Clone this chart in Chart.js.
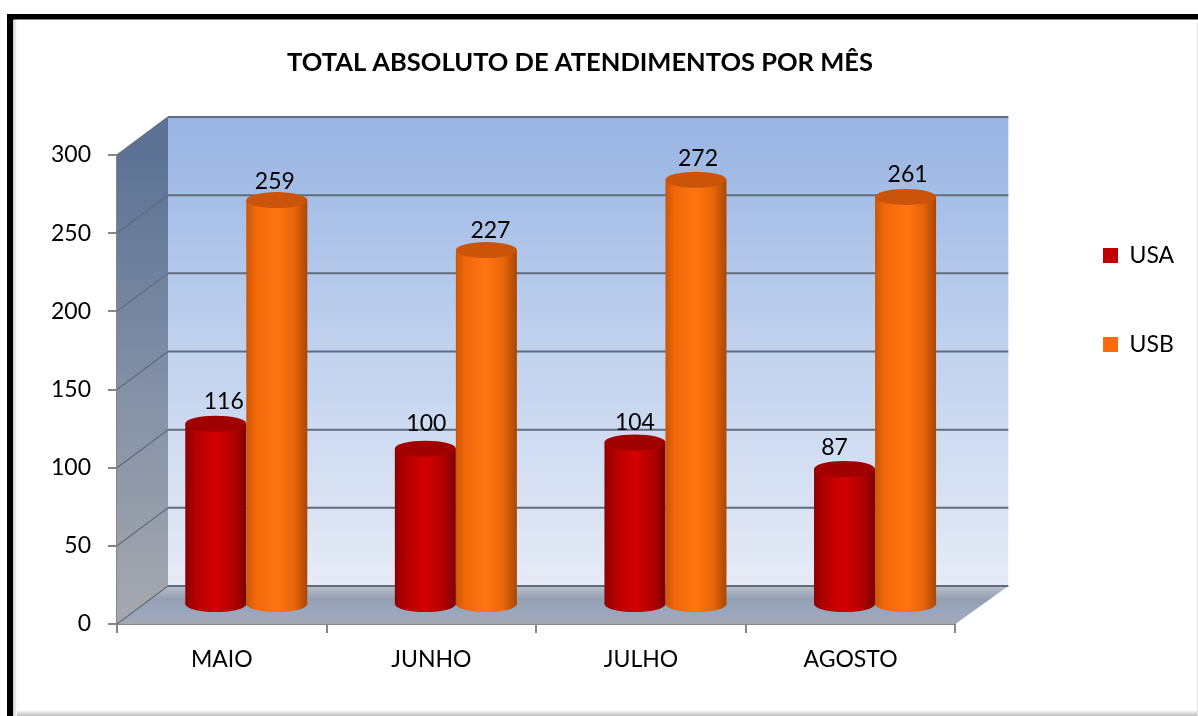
<!DOCTYPE html>
<html><head><meta charset="utf-8">
<style>html,body{margin:0;padding:0;background:#fff}#w{width:1198px;height:716px}canvas{display:block}</style>
<script src="https://cdn.jsdelivr.net/npm/chart.js@4"></script>
</head><body><div id="w"><canvas id="c" width="1198" height="716"></canvas></div>
<script>
const months = ['MAIO','JUNHO','JULHO','AGOSTO'];
const usaValues = [116,100,104,87];
const usbValues = [259,227,272,261];
const yTickStep = 50;
const yMax = 300;
const chartTitle = 'TOTAL ABSOLUTO DE ATENDIMENTOS POR MÊS';

const FONT = 'Lato';
const DEPTH = {x:51, y:-38};
const BAR = {x:24.5, y:-19};
const labelNudge = {USA:[[8,-22],[1,-25],[0,-20],[-10,-21]], USB:[[-2,-19],[4,-20],[2,-21],[2,-22]]};

function cylGrad(ctx, l, r, stops){
  const g = ctx.createLinearGradient(l,0,r,0);
  stops.forEach(s=>g.addColorStop(s[0],s[1]));
  return g;
}
const STOPS = {
  USA:[[0,'#8e0000'],[0.18,'#b50000'],[0.5,'#d40000'],[0.8,'#b00000'],[1,'#7e0000']],
  USB:[[0,'#cc5606'],[0.15,'#f0680a'],[0.5,'#ff7510'],[0.78,'#e9650a'],[1,'#a84806']]
};
const TOPC = {USA:'#a00000', USB:'#c9540a'};
const RY = 8;

function cylBase(chart,index){
  const c = chart.ctx, ds = chart.data.datasets[index], meta = chart.getDatasetMeta(index);
  c.save();
  c.translate(BAR.x,BAR.y);
  meta.data.forEach(el=>{
    const l = el.x-el.width/2, r = el.x+el.width/2;
    const g = cylGrad(c,l,r,STOPS[ds.label]);
    el.options = Object.assign({}, el.options, {backgroundColor:g});
    c.fillStyle = g;
    c.beginPath(); c.ellipse(el.x,el.base,el.width/2,RY,0,0,Math.PI*2); c.fill();
  });
}
function cylTop(chart,index){
  const c = chart.ctx, ds = chart.data.datasets[index], meta = chart.getDatasetMeta(index);
  meta.data.forEach(el=>{
    c.fillStyle = TOPC[ds.label];
    c.beginPath(); c.ellipse(el.x,el.y,el.width/2,RY,0,0,Math.PI*2); c.fill();
  });
  c.restore();
}

const scene = {
  id:'scene',
  afterLayout(chart){
    const t = chart.titleBlock, shiftT = 580 - (t.left + t.right)/2;
    t.left += shiftT; t.right += shiftT;
    const lg = chart.legend;
    const p = lg.options.labels.padding;
    lg.left = 1103 - p; lg.right = lg.left + lg.width;
    lg.top = 244 - p;
    lg.bottom = lg.top + lg.height;
  },
  beforeDraw(chart){
    const c = chart.ctx, W = chart.width, H = chart.height;
    c.save();
    c.fillStyle='#fff'; c.fillRect(0,0,W,H);
    let g = c.createLinearGradient(0,710,0,716);
    g.addColorStop(0,'#ffffff'); g.addColorStop(1,'#bdbdbd');
    c.fillStyle=g; c.fillRect(13,710,W-13,6);
    g = c.createLinearGradient(13,0,17,0);
    g.addColorStop(0,'#c8c8c8'); g.addColorStop(1,'#ffffff');
    c.fillStyle=g; c.fillRect(13,19,4,H-19);
    c.fillStyle='#e4e4e4'; c.fillRect(W-1,22,1,H-22);
    c.fillStyle='#000';
    c.fillRect(7,14,W-7,5.5);
    c.fillRect(7,14,6,H-14);
    c.restore();
  },
  beforeDatasetsDraw(chart){
    const c = chart.ctx, y = chart.scales.y, a = chart.chartArea;
    const L=a.left,R=a.right,dx=DEPTH.x,dy=DEPTH.y,T=a.top,B=a.bottom;
    c.save();
    let g = c.createLinearGradient(0,T+dy,0,B+dy);
    g.addColorStop(0,'#98b4e3'); g.addColorStop(0.5,'#c1d2ee'); g.addColorStop(1,'#e6ebf6');
    c.fillStyle=g; c.fillRect(L+dx,T+dy,R-L+2,B-T);
    g = c.createLinearGradient(0,T,0,B);
    g.addColorStop(0,'#5d7294'); g.addColorStop(0.5,'#8390a6'); g.addColorStop(1,'#a6a8ae');
    c.fillStyle=g; c.beginPath();
    c.moveTo(L,T); c.lineTo(L+dx,T+dy); c.lineTo(L+dx,B+dy); c.lineTo(L,B); c.closePath(); c.fill();
    g = c.createLinearGradient(0,B+dy,0,B);
    g.addColorStop(0,'#b9bfc9'); g.addColorStop(0.35,'#959fb2'); g.addColorStop(0.7,'#9aa7bf'); g.addColorStop(1,'#a6a8af');
    c.fillStyle=g; c.beginPath();
    c.moveTo(L,B); c.lineTo(L+dx,B+dy); c.lineTo(R+dx+2,B+dy); c.lineTo(R,B); c.closePath(); c.fill();
    y.ticks.forEach(t=>{
      const p = y.getPixelForValue(t.value);
      c.strokeStyle='#5f6c7e'; c.lineWidth=1.2;
      c.beginPath(); c.moveTo(L,p); c.lineTo(L+dx,p+dy); c.stroke();
      c.lineWidth=2;
      c.beginPath(); c.moveTo(L+dx,p+dy); c.lineTo(R+dx+2,p+dy); c.stroke();
    });
    c.restore();
  },
  // USB overlaps USA in the reference: postpone dataset 1 until dataset 0 is done
  beforeDatasetDraw(chart,args){
    if(args.index===1) return false;
    cylBase(chart,args.index);
  },
  afterDatasetDraw(chart,args){
    cylTop(chart,args.index);
    if(args.index===0){
      cylBase(chart,1);
      chart.getDatasetMeta(1).controller.draw();
      cylTop(chart,1);
    }
  },
  afterDatasetsDraw(chart){
    const c = chart.ctx;
    c.save();
    c.fillStyle='#000'; c.font='23px '+FONT; c.textAlign='center'; c.textBaseline='middle';
    chart.data.datasets.forEach((ds,di)=>{
      chart.getDatasetMeta(di).data.forEach((el,i)=>{
        const n = labelNudge[ds.label][i];
        c.fillText(String(ds.data[i]), el.x+BAR.x+n[0], el.y+BAR.y+n[1]);
      });
    });
    c.restore();
  }
};

function barDs(label,data,color){
  return {
    label,data,
    borderWidth:0,
    backgroundColor:color,
    barPercentage:1,
    categoryPercentage:122/209.5
  };
}

new Chart(document.getElementById('c'),{
  type:'bar',
  data:{labels:months,datasets:[
    barDs('USA',usaValues,'#c00000'),
    barDs('USB',usbValues,'#ff6a0d')
  ]},
  plugins:[scene],
  options:{
    responsive:false,animation:false,
    layout:{padding:{left:0,right:95.5,top:0,bottom:0}},
    plugins:{
      tooltip:{enabled:false},
      title:{display:true,text:chartTitle,color:'#000',
        font:{family:FONT,size:25.5,weight:'bold',lineHeight:1.2},
        padding:{top:47.7,bottom:76.7}},
      legend:{display:true,position:'right',align:'start',
        labels:{color:'#000',boxWidth:15,boxHeight:15,padding:66,
          font:{family:FONT,size:23}}}
    },
    scales:{
      x:{type:'category',offset:true,
        afterFit(s){s.height=92;},
        border:{display:true,color:'#868686',width:2},
        grid:{display:true,offset:true,drawOnChartArea:false,drawTicks:true,tickLength:9,color:'#868686',lineWidth:2},
        ticks:{color:'#000',font:{family:FONT,size:23},padding:13,maxRotation:0}},
      y:{type:'linear',min:0,max:yMax,
        afterFit(s){s.width=117;},
        border:{display:true,color:'#868686',width:2},
        grid:{display:true,drawOnChartArea:false,drawTicks:true,tickLength:9,color:'#868686',lineWidth:2},
        ticks:{stepSize:yTickStep,color:'#000',font:{family:FONT,size:23},padding:17}}
    }
  }
});
</script></body></html>
